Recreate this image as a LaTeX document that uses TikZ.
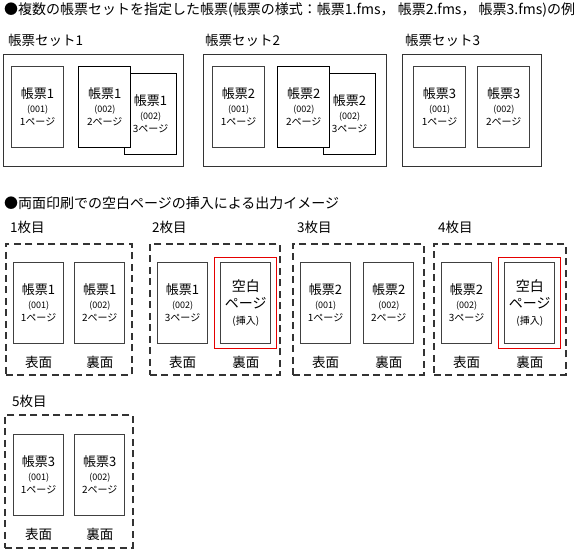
\documentclass[tikz,border=0pt]{standalone}
\usepackage{fontspec}
\setmainfont{Noto Sans CJK JP}
\usetikzlibrary{positioning}

\newcommand{\formlines}[3]{#1\\{\fontsize{9}{9}\selectfont(#2)}\\{\fontsize{10}{10}\selectfont #3ページ}}
\newcommand{\blanklines}{空白\\ページ\\{\fontsize{10}{10}\selectfont(挿入)}}

\begin{document}
\begin{tikzpicture}[
    x=1pt, y=-1pt,
    every node/.style={font=\fontsize{13}{13.5}\selectfont, inner sep=0pt},
    heading/.style={anchor=west, font=\fontsize{14}{14}\selectfont},
    caption/.style={anchor=west, font=\fontsize{13.5}{14}\selectfont},
    setbox/.style={draw=black!80, line width=1.1pt, anchor=north west, minimum height=112pt},
    sheetbox/.style={draw=black!80, line width=1.6pt, dash pattern=on 7pt off 4.5pt, anchor=north west, minimum width=128pt, minimum height=131pt},
    form/.style={draw=black!75, line width=1.2pt, fill=white, align=center, minimum width=52pt, minimum height=81pt},
    sheetform/.style={form, minimum width=50pt},
    blankform/.style={sheetform, font=\fontsize{14}{16.5}\selectfont},
    insert/.style={draw=red!90!black, line width=0.8pt, minimum width=62pt, minimum height=91pt},
    side/.style={below=12pt of #1, font=\fontsize{13.5}{14}\selectfont}
]
\useasboundingbox (0,0) rectangle (581,551);

% form sets
\node[heading] (title) at (4,10) {●複数の帳票セットを指定した帳票(帳票の様式：帳票1.fms，\ 帳票2.fms，\ 帳票3.fms)の例};

\node[caption] (cap1) at (8,40) {帳票セット1};
\node[setbox, minimum width=180pt] (set1) at (3,54) {};
\node[form, anchor=north west] (s1a) at ([shift={(8,12)}]set1.north west) {\formlines{帳票1}{001}{1}};
\node[form, anchor=north west, draw=black] (s1c) at ([shift={(113,7)}]s1a.north west) {\formlines{帳票1}{002}{3}};
\node[form, right=14pt of s1a, draw=black] (s1b) {\formlines{帳票1}{002}{2}};

\node[caption] (cap2) at (205,40) {帳票セット2};
\node[setbox, minimum width=183pt] (set2) at (203,54) {};
\node[form, anchor=north west] (s2a) at ([shift={(9,12)}]set2.north west) {\formlines{帳票2}{001}{1}};
\node[form, anchor=north west, draw=black] (s2c) at ([shift={(111,7)}]s2a.north west) {\formlines{帳票2}{002}{3}};
\node[form, right=12pt of s2a, draw=black] (s2b) {\formlines{帳票2}{002}{2}};

\node[caption] (cap3) at (405,40) {帳票セット3};
\node[setbox, minimum width=139pt] (set3) at (402,54) {};
\node[form, anchor=north west] (s3a) at ([shift={(11,12)}]set3.north west) {\formlines{帳票3}{001}{1}};
\node[form, right=11pt of s3a] (s3b) {\formlines{帳票3}{002}{2}};

% duplex output
\node[heading] (title2) at (4,203) {●両面印刷での空白ページの挿入による出力イメージ};

\node[caption] (cap4) at (10,227) {1枚目};
\node[sheetbox, minimum width=126pt] (m1) at (5,243) {};
\node[sheetform, anchor=north west] (m1f) at ([shift={(8,19)}]m1.north west) {\formlines{帳票1}{001}{1}};
\node[sheetform, right=10pt of m1f] (m1b) {\formlines{帳票1}{002}{2}};
\node[side=m1f] (m1x) {表面};
\node[side=m1b] (m1y) {裏面};

\node[caption] (cap5) at (152,227) {2枚目};
\node[sheetbox, minimum width=130pt] (m2) at (149,243) {};
\node[sheetform, anchor=north west] (m2f) at ([shift={(8,19)}]m2.north west) {\formlines{帳票1}{002}{3}};
\node[blankform, right=12pt of m2f] (m2b) {\blanklines};
\node[insert] (m2r) at (m2b) {};
\node[side=m2f] (m2x) {表面};
\node[side=m2b] (m2y) {裏面};

\node[caption] (cap6) at (297,227) {3枚目};
\node[sheetbox, minimum width=131pt] (m3) at (292,243) {};
\node[sheetform, anchor=north west] (m3f) at ([shift={(8,19)}]m3.north west) {\formlines{帳票2}{001}{1}};
\node[sheetform, right=12pt of m3f] (m3b) {\formlines{帳票2}{002}{2}};
\node[side=m3f] (m3x) {表面};
\node[side=m3b] (m3y) {裏面};

\node[caption] (cap7) at (438,227) {4枚目};
\node[sheetbox, minimum width=132pt] (m4) at (433,243) {};
\node[sheetform, anchor=north west] (m4f) at ([shift={(8,19)}]m4.north west) {\formlines{帳票2}{002}{3}};
\node[blankform, right=12pt of m4f] (m4b) {\blanklines};
\node[insert] (m4r) at (m4b) {};
\node[side=m4f] (m4x) {表面};
\node[side=m4b] (m4y) {裏面};

\node[caption] (cap8) at (12,401) {5枚目};
\node[sheetbox, minimum height=133pt] (m5) at (4,414) {};
\node[sheetform, anchor=north west] (m5f) at ([shift={(9,20)}]m5.north west) {\formlines{帳票3}{001}{1}};
\node[sheetform, right=10pt of m5f] (m5b) {\formlines{帳票3}{002}{2}};
\node[side=m5f] (m5x) {表面};
\node[side=m5b] (m5y) {裏面};
\end{tikzpicture}
\end{document}
